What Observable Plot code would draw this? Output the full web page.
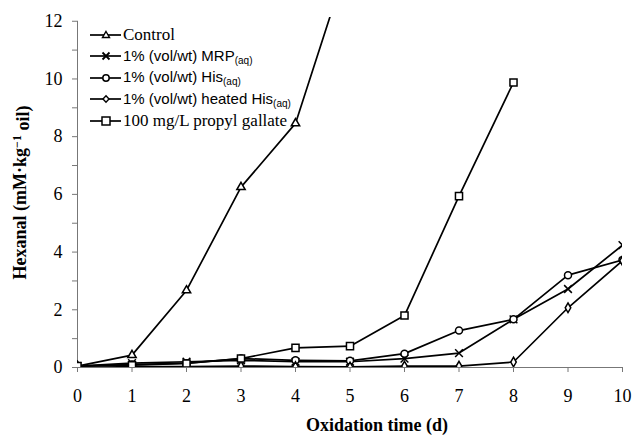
<!DOCTYPE html>
<html><head><meta charset="utf-8">
<script src="https://cdn.jsdelivr.net/npm/d3@7"></script>
<script src="https://cdn.jsdelivr.net/npm/@observablehq/plot@0.6"></script>
<style>
body{margin:0;background:#fff;}
#wrap{position:relative;width:634px;height:439px;background:#fff;}
#legend{position:absolute;left:90px;top:24px;}
.row{display:flex;align-items:center;height:21.5px;white-space:nowrap;color:#000;}
.row svg{display:block;margin-right:2px;}
.serif{font-family:"Liberation Serif",serif;font-size:17px;}
.sans{font-family:"Liberation Sans",Arial,sans-serif;font-size:15px;}
.sans sub{font-size:10px;vertical-align:-3px;}
</style></head><body><div id="wrap"><div id="legend"></div></div>
<script>
// Data
const days = [0,1,2,3,4,5,6,7,8,9,10];
const control = [0.05,0.43,2.67,6.25,8.46,14.3];
const mrp = [0.05,0.15,0.2,0.25,0.2,0.2,0.31,0.5,1.67,2.72,4.24];
const his = [0.05,0.1,0.15,0.31,0.25,0.23,0.48,1.28,1.67,3.2,3.73];
const heatedHis = [0.0,0.03,0.03,0.05,0.03,0.02,0.05,0.05,0.19,2.07,3.7];
const propylGallate = [0.05,0.08,0.14,0.31,0.68,0.74,1.8,5.94,9.88];
const seriesNames = ["Control","1% (vol/wt) MRP(aq)","1% (vol/wt) His(aq)","1% (vol/wt) heated His(aq)","100 mg/L propyl gallate"];
const yTicks = [0,1,2,3,4,5,6,7,8,9,10,11,12];
const yTitle = "Hexanal (mM·kg-1 oil)";
const xTitle = "Oxidation time (d)";

const series = [
  {name: seriesNames[0], values: control, symbol: "triangle", r: 3.1},
  {name: seriesNames[1], values: mrp, symbol: "times", r: 3.6},
  {name: seriesNames[2], values: his, symbol: "circle", r: 3.5},
  {name: seriesNames[3], values: heatedHis, symbol: "diamond", r: 2.9},
  {name: seriesNames[4], values: propylGallate, symbol: "square", r: 4.0}
];
const rows = [];
series.forEach(s => s.values.forEach((v, i) => rows.push({series: s.name, day: days[i], value: v})));

const plot = Plot.plot({
  width: 634, height: 439,
  marginLeft: 77, marginRight: 12, marginTop: 17, marginBottom: 72,
  x: {domain: [0, 10]},
  y: {domain: [0, 12.13]},
  style: {fontFamily: "Liberation Serif", fontSize: "18px", color: "#000", background: "#fff"},
  marks: [
    Plot.ruleY([0], {stroke: "#777", strokeWidth: 1}),
    Plot.ruleX([0], {y1: 0, y2: 12, stroke: "#777", strokeWidth: 1}),
    Plot.axisY({ticks: yTicks, tickSize: 5, tickPadding: 10, fontSize: 18, tickFormat: d => d % 2 === 0 ? d : "", label: null, stroke: "#777"}),
    Plot.axisX({ticks: days, tickSize: 5, tickPadding: 17, fontSize: 18, label: null, stroke: "#777"}),
    Plot.line(rows, {x: "day", y: "value", z: "series", stroke: "#000", strokeWidth: 1.7, clip: true}),
    ...series.map(s => Plot.dot(rows.filter(d => d.series === s.name), {x: "day", y: "value", symbol: s.symbol, r: s.r, fill: s.symbol === "times" ? "none" : "#fff", stroke: "#000", strokeWidth: 1.5, clip: true})),
    Plot.text([yTitle], {frameAnchor: "left", textAnchor: "middle", rotate: -90, dx: -57, fontWeight: "bold", fontSize: 18, text: d => d}),
    Plot.text([xTitle], {frameAnchor: "bottom", textAnchor: "middle", dx: 27, dy: 63, fontWeight: "bold", fontSize: 18, text: d => d})
  ]
});
document.getElementById("wrap").prepend(plot);
plot.style.display = "block";

// superscript for the y title
d3.select(plot).selectAll("text").filter(function(){ return this.textContent === yTitle; }).each(function(){
  const t = d3.select(this); t.text(null);
  t.append("tspan").text("Hexanal (mM·kg");
  t.append("tspan").attr("dy", "-0.45em").attr("font-size", "12px").text("−1");
  t.append("tspan").attr("dy", "0.45em").text(" oil)");
});

// legend
const symPaths = {
  triangle: '<path d="M16,3.5 L19.5,9.5 L12.5,9.5 Z" fill="#fff" stroke="#000" stroke-width="1.4"/>',
  times: '<path d="M12.5,3.5 L19.5,10.5 M19.5,3.5 L12.5,10.5" stroke="#000" stroke-width="1.8"/>',
  circle: '<circle cx="16" cy="7" r="3.2" fill="#fff" stroke="#000" stroke-width="1.5"/>',
  diamond: '<path d="M16,3.8 L19,7 L16,10.2 L13,7 Z" fill="#fff" stroke="#000" stroke-width="1.4"/>',
  square: '<rect x="12" y="3" width="8" height="8" fill="#fff" stroke="#000" stroke-width="1.5"/>'
};
const legendHtml = series.map((s, i) => {
  const sym = `<svg width="31" height="14"><line x1="0" x2="31" y1="7" y2="7" stroke="#000" stroke-width="1.7"/>${symPaths[s.symbol]}</svg>`;
  let label;
  if (s.name.endsWith("(aq)")) {
    label = `<span class="sans">${s.name.slice(0, -4)}<sub>(aq)</sub></span>`;
  } else {
    label = `<span class="serif">${s.name}</span>`;
  }
  return `<div class="row">${sym}${label}</div>`;
}).join("");
document.getElementById("legend").innerHTML = legendHtml;
</script>
</body></html>
